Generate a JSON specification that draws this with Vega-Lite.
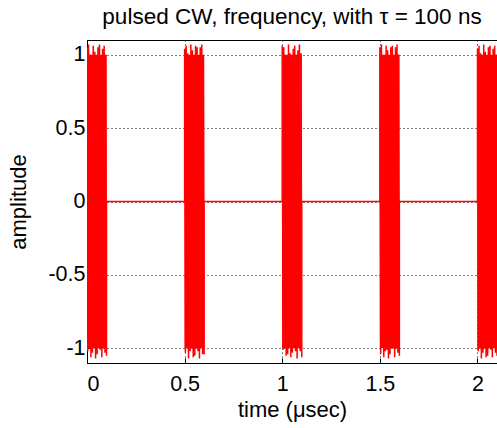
{
  "$schema": "https://vega.github.io/schema/vega-lite/v6.json",
  "width": 410,
  "height": 323,
  "autosize": {"type": "none"},
  "padding": {"left": 87, "top": 40, "right": 0, "bottom": 65},
  "background": "white",
  "config": {
    "font": "Liberation Sans",
    "view": {"stroke": "black", "strokeWidth": 1},
    "axis": {
      "labelFont": "Liberation Sans",
      "labelFontSize": 21.5,
      "labelColor": "black",
      "titleFont": "Liberation Sans",
      "titleFontSize": 22,
      "titleFontWeight": "normal",
      "titleColor": "black",
      "domainColor": "black",
      "tickColor": "black",
      "gridColor": "black",
      "gridOpacity": 1,
      "gridDash": [1, 3],
      "gridWidth": 1
    }
  },
  "title": {
    "text": "pulsed CW, frequency, with τ = 100 ns",
    "font": "Liberation Sans",
    "fontSize": 22.5,
    "fontWeight": "normal",
    "color": "black",
    "anchor": "middle",
    "offset": 12
  },
  "datasets": {
    "bursts": [
      {"s": 0, "e": 0.1},
      {"s": 0.5, "e": 0.6},
      {"s": 1.0, "e": 1.1},
      {"s": 1.5, "e": 1.6},
      {"s": 2.0, "e": 2.1}
    ],
    "wave": [
      {"t":0,"a":1.05},{"t":0.004,"a":-1.02},{"t":0.008,"a":1.07},{"t":0.012,"a":-0.98},{"t":0.016,"a":1.0},{"t":0.02,"a":-1.06},{"t":0.024,"a":0.97},{"t":0.028,"a":-1.03},{"t":0.032,"a":1.06},{"t":0.036,"a":-1.0},{"t":0.04,"a":1.02},{"t":0.044,"a":-1.07},{"t":0.048,"a":0.98},{"t":0.052,"a":-1.04},{"t":0.056,"a":1.05},{"t":0.06,"a":-0.97},{"t":0.064,"a":1.07},{"t":0.068,"a":-1.01},{"t":0.072,"a":0.99},{"t":0.076,"a":-1.06},{"t":0.08,"a":1.04},{"t":0.084,"a":-0.98},{"t":0.088,"a":1.06},{"t":0.092,"a":-1.03},{"t":0.096,"a":1.0},{"t":0.1,"a":-1.05},{"t":0.1,"a":0},{"t":0.5,"a":0},
      {"t":0.5,"a":1.04},{"t":0.504,"a":-1.03},{"t":0.508,"a":1.06},{"t":0.512,"a":-0.97},{"t":0.516,"a":1.01},{"t":0.52,"a":-1.07},{"t":0.524,"a":0.98},{"t":0.528,"a":-1.02},{"t":0.532,"a":1.07},{"t":0.536,"a":-0.99},{"t":0.54,"a":1.03},{"t":0.544,"a":-1.06},{"t":0.548,"a":0.97},{"t":0.552,"a":-1.05},{"t":0.556,"a":1.06},{"t":0.56,"a":-0.98},{"t":0.564,"a":1.05},{"t":0.568,"a":-1.02},{"t":0.572,"a":0.98},{"t":0.576,"a":-1.07},{"t":0.58,"a":1.05},{"t":0.584,"a":-0.97},{"t":0.588,"a":1.07},{"t":0.592,"a":-1.04},{"t":0.596,"a":0.99},{"t":0.6,"a":-1.04},{"t":0.6,"a":0},{"t":1.0,"a":0},
      {"t":1.0,"a":1.06},{"t":1.004,"a":-1.01},{"t":1.008,"a":1.05},{"t":1.012,"a":-0.99},{"t":1.016,"a":0.98},{"t":1.02,"a":-1.05},{"t":1.024,"a":0.99},{"t":1.028,"a":-1.04},{"t":1.032,"a":1.07},{"t":1.036,"a":-0.98},{"t":1.04,"a":1.01},{"t":1.044,"a":-1.06},{"t":1.048,"a":0.97},{"t":1.052,"a":-1.03},{"t":1.056,"a":1.04},{"t":1.06,"a":-0.98},{"t":1.064,"a":1.06},{"t":1.068,"a":-1.02},{"t":1.072,"a":1.0},{"t":1.076,"a":-1.07},{"t":1.08,"a":1.03},{"t":1.084,"a":-0.97},{"t":1.088,"a":1.07},{"t":1.092,"a":-1.02},{"t":1.096,"a":1.01},{"t":1.1,"a":-1.06},{"t":1.1,"a":0},{"t":1.5,"a":0},
      {"t":1.5,"a":1.05},{"t":1.504,"a":-1.04},{"t":1.508,"a":1.07},{"t":1.512,"a":-0.97},{"t":1.516,"a":0.99},{"t":1.52,"a":-1.06},{"t":1.524,"a":0.98},{"t":1.528,"a":-1.02},{"t":1.532,"a":1.06},{"t":1.536,"a":-1.01},{"t":1.54,"a":1.03},{"t":1.544,"a":-1.07},{"t":1.548,"a":0.97},{"t":1.552,"a":-1.04},{"t":1.556,"a":1.05},{"t":1.56,"a":-0.98},{"t":1.564,"a":1.06},{"t":1.568,"a":-1.0},{"t":1.572,"a":0.98},{"t":1.576,"a":-1.06},{"t":1.58,"a":1.05},{"t":1.584,"a":-0.99},{"t":1.588,"a":1.07},{"t":1.592,"a":-1.03},{"t":1.596,"a":1.0},{"t":1.6,"a":-1.05},{"t":1.6,"a":0},{"t":2.0,"a":0},
      {"t":2.0,"a":1.04},{"t":2.004,"a":-1.02},{"t":2.008,"a":1.06},{"t":2.012,"a":-0.98},{"t":2.016,"a":1.01},{"t":2.02,"a":-1.07},{"t":2.024,"a":0.97},{"t":2.028,"a":-1.03},{"t":2.032,"a":1.07},{"t":2.036,"a":-1.0},{"t":2.04,"a":1.02},{"t":2.044,"a":-1.06},{"t":2.048,"a":0.98},{"t":2.052,"a":-1.05},{"t":2.056,"a":1.05},{"t":2.06,"a":-0.97},{"t":2.064,"a":1.06},{"t":2.068,"a":-1.01},{"t":2.072,"a":0.99},{"t":2.076,"a":-1.06},{"t":2.08,"a":1.04},{"t":2.084,"a":-0.98},{"t":2.088,"a":1.06},{"t":2.092,"a":-1.03},{"t":2.096,"a":1.0},{"t":2.1,"a":-1.05}
    ]
  },
  "layer": [
    {
      "data": {"name": "bursts"},
      "mark": {"type": "rect", "color": "#ff0000", "clip": true},
      "encoding": {
        "x": {
          "field": "s", "type": "quantitative",
          "scale": {"domain": [0, 2.1], "nice": false, "zero": false},
          "axis": {
            "values": [0, 0.5, 1, 1.5, 2],
            "title": "time (μsec)",
            "grid": true,
            "tickSize": -5,
            "labelPadding": 15,
            "titlePadding": 5,
            "labelExpr": "datum.value"
          }
        },
        "x2": {"field": "e"},
        "y": {
          "datum": -1.0, "type": "quantitative",
          "scale": {"domain": [-1.1, 1.1], "nice": false, "zero": false},
          "axis": {
            "values": [-1, -0.5, 0, 0.5, 1],
            "title": "amplitude",
            "grid": true,
            "tickSize": -5,
            "labelPadding": 7,
            "titlePadding": 17,
            "labelExpr": "datum.value"
          }
        },
        "y2": {"datum": 1.0}
      }
    },
    {
      "data": {"name": "wave"},
      "mark": {"type": "line", "color": "#ff0000", "strokeWidth": 1.5, "clip": true},
      "encoding": {
        "x": {"field": "t", "type": "quantitative"},
        "y": {"field": "a", "type": "quantitative"},
        "order": {"value": null}
      }
    }
  ]
}
